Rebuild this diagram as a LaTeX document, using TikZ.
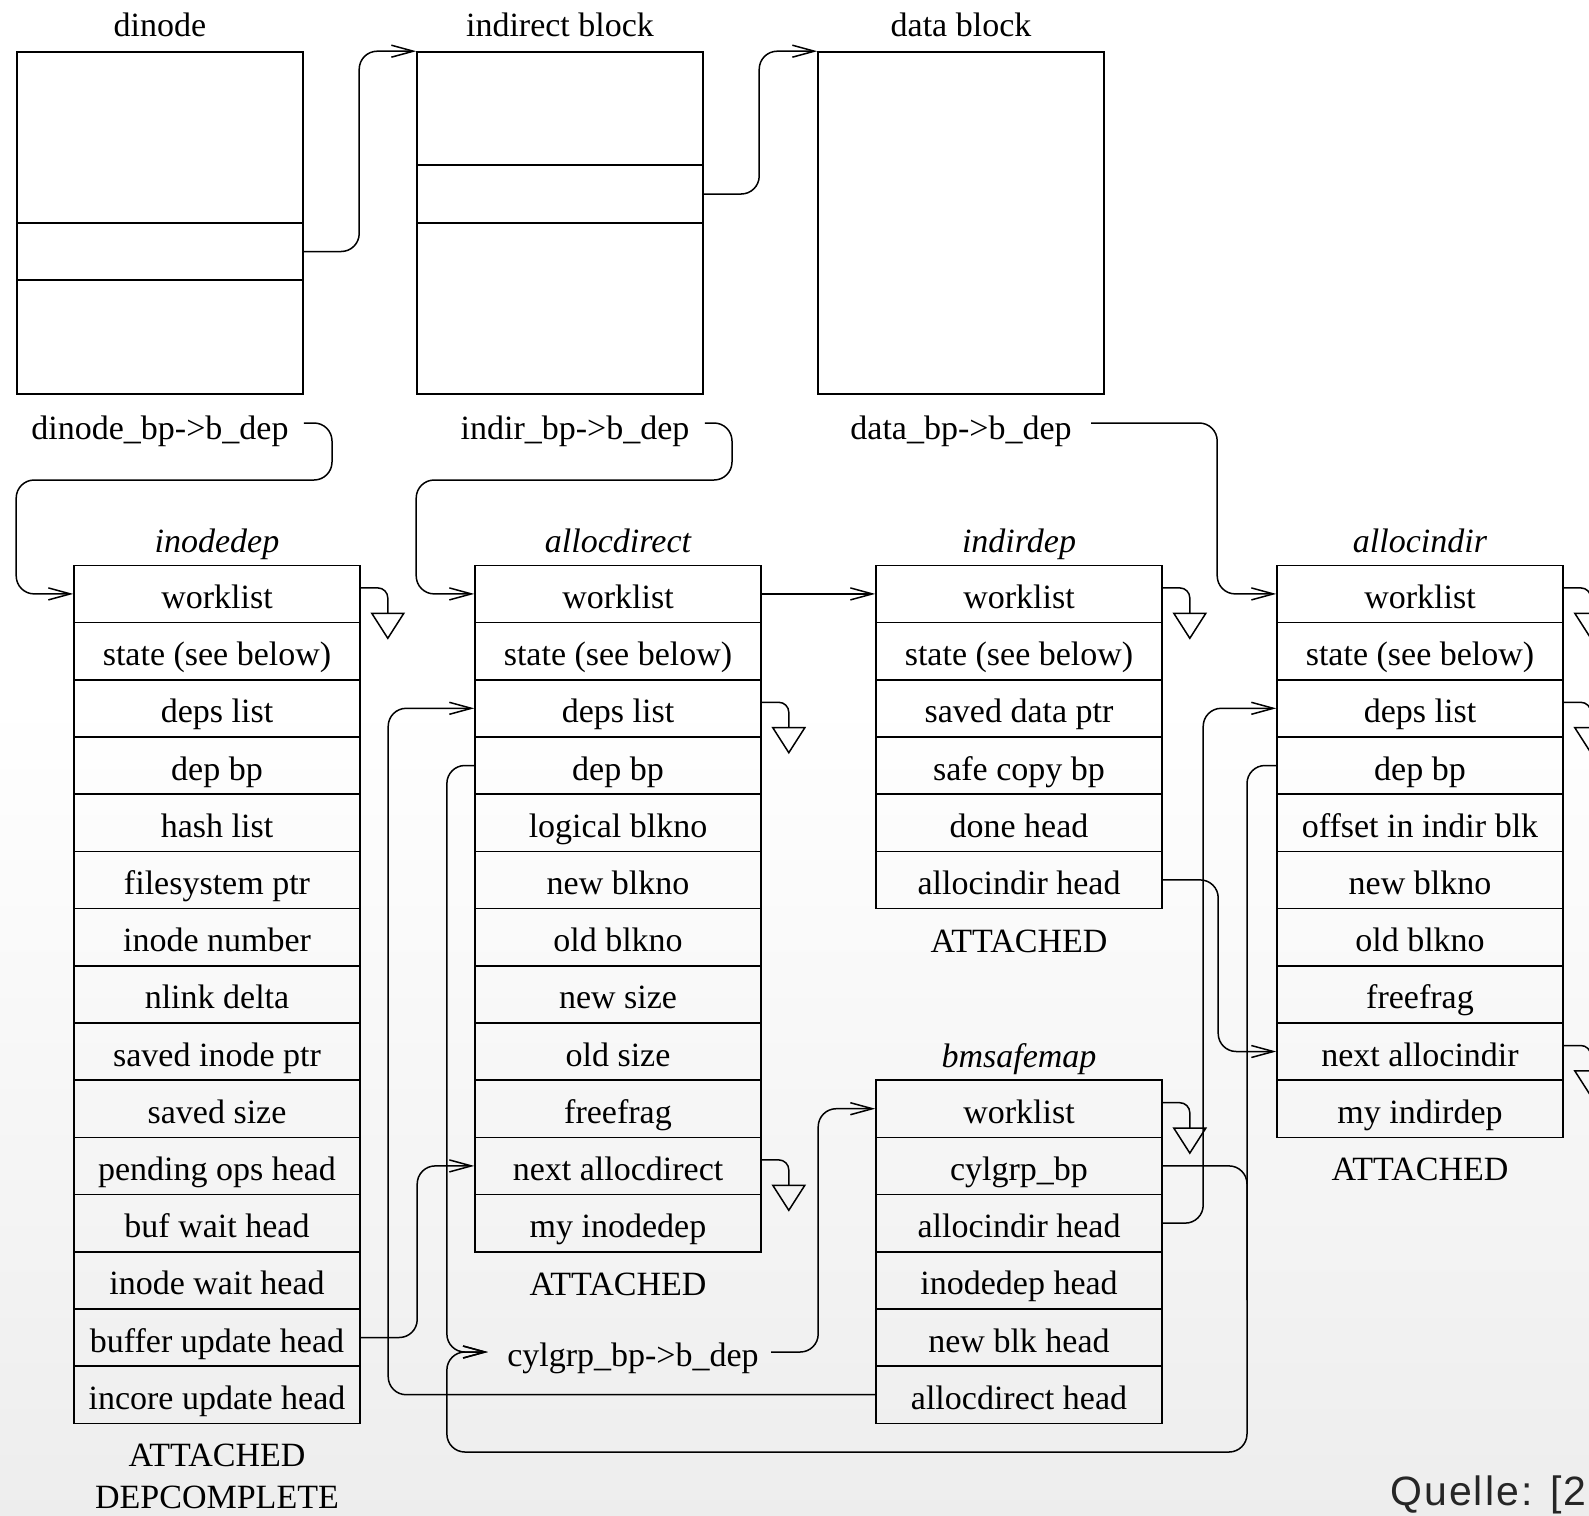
\documentclass[tikz,border=0pt]{standalone}
\usepackage{fontspec}
\setmainfont{Liberation Serif}
\newfontfamily\quellefont[LetterSpace=5]{Liberation Sans}
\usetikzlibrary{arrows.meta,calc}
\newcommand\nilhook[1]{%
  \draw[line width=0.75pt,rounded corners=5pt] ($(#1.east)+(0,-6)$) -- ++(27,0) -- ++(0,25.4);
  \draw[line width=0.75pt] ($(#1.east)+(11,19.4)$) -- ++(32,0) -- ++(-16,25) -- cycle;}
\begin{document}
\begin{tikzpicture}[x=0.5pt,y=-0.5pt,
  font=\fontsize{17}{20}\selectfont,
  cell/.style={draw,line width=0.8pt,minimum width=143pt,minimum height=28.6pt,inner sep=0pt,text height=14.5pt,text depth=0pt},
  blk/.style={draw,line width=0.8pt,minimum width=143pt,inner sep=0pt},
  lbl/.style={inner sep=0pt,text height=11.3pt,text depth=0pt},
  ttl/.style={lbl,font=\fontsize{17}{20}\selectfont\itshape},
  wire/.style={line width=0.75pt,rounded corners=9pt},
  conn/.style={wire,-{Straight Barb[length=11pt,width=6pt]}},
]
\useasboundingbox (0,0) rectangle (1589,1515);
\clip (0,0) rectangle (1589,1515);
\fill[white] (0,0) rectangle (1589,1515);
\shade[top color=white,bottom color=black!7] (0,700) rectangle (1589,1516);

% top blocks
\node[lbl] (tDin) at (160,25) {dinode};
\node[lbl] (tInd) at (560,25) {indirect block};
\node[lbl] (tDat) at (961,25) {data block};
\node[blk,minimum height=85.5pt] (dinT) at (160,137.5) {};
\node[blk,minimum height=28.5pt] (dinM) at (160,251.5) {};
\node[blk,minimum height=57pt] (dinB) at (160,337) {};
\node[blk,minimum height=56.5pt] (indT) at (560,108.5) {};
\node[blk,minimum height=29pt] (indM) at (560,194) {};
\node[blk,minimum height=85.5pt] (indB) at (560,308.5) {};
\node[blk,minimum height=171pt] (datB) at (961,223) {};

\draw[conn] (dinM.east) -| ($(indT.north west)+(-57,0)$) -- (indT.north west);
\draw[conn] (indM.east) -| ($(datB.north west)+(-58,0)$) -- (datB.north west);

\node[lbl] (dbp) at (160,428) {dinode\_bp->b\_dep};
\node[lbl] (ibp) at (575,428) {indir\_bp->b\_dep};
\node[lbl] (dtbp) at (961,428) {data\_bp->b\_dep};

% tables
\node[ttl] (hIno) at (217,541) {inodedep};
\node[ttl] (hAd) at (618,541) {allocdirect};
\node[ttl] (hInd) at (1019,541) {indirdep};
\node[ttl] (hAi) at (1420,541) {allocindir};
\node[ttl] (hBm) at (1019,1056) {bmsafemap};

\foreach \t [count=\i from 0] in {worklist,state (see below),deps list,dep bp,hash list,filesystem ptr,inode number,nlink delta,saved inode ptr,saved size,pending ops head,buf wait head,inode wait head,buffer update head,incore update head}
  \node[cell] (ino\i) at (217,{593.9+57.2*\i}) {\t};
\foreach \t [count=\i from 0] in {worklist,state (see below),deps list,dep bp,logical blkno,new blkno,old blkno,new size,old size,freefrag,next allocdirect,my inodedep}
  \node[cell] (ad\i) at (618,{593.9+57.2*\i}) {\t};
\foreach \t [count=\i from 0] in {worklist,state (see below),saved data ptr,safe copy bp,done head,allocindir head}
  \node[cell] (ind\i) at (1019,{593.9+57.2*\i}) {\t};
\foreach \t [count=\i from 0] in {worklist,state (see below),deps list,dep bp,offset in indir blk,new blkno,old blkno,freefrag,next allocindir,my indirdep}
  \node[cell] (ai\i) at (1420,{593.9+57.2*\i}) {\t};
\foreach \t [count=\i from 0] in {worklist,cylgrp\_bp,allocindir head,inodedep head,new blk head,allocdirect head}
  \node[cell] (bm\i) at (1019,{1108.7+57.2*\i}) {\t};

\node[lbl] (sIno1) at (217,1455) {ATTACHED};
\node[lbl] (sIno2) at (217,1497) {DEPCOMPLETE};
\node[lbl] (sAd) at (618,1284) {ATTACHED};
\node[lbl] (sInd) at (1019,941) {ATTACHED};
\node[lbl] (sAi) at (1420,1169.5) {ATTACHED};

\node[lbl] (cbp) at (633,1355) {cylgrp\_bp->b\_dep};
\coordinate (cbpin) at ($(cbp.west)+(-19,-3)$);
\coordinate (loopR) at (1247,1452);
\coordinate (loopM) at (1247,1300);

% connectors
\draw[conn] ($(dbp.east)+(15,-5)$) -| (332,480) -| ($(ino0.west)+(-57,0)$) -- (ino0.west);
\draw[conn] ($(ibp.east)+(15,-5)$) -| (732,480) -| ($(ad0.west)+(-58,0)$) -- (ad0.west);
\draw[conn] ($(dtbp.east)+(19,-5)$) -| ($(ai0.west)+(-59,0)$) -- (ai0.west);
\draw[conn] (ad0.east) -- (ind0.west);
\draw[conn] (ino13.east) -| ($(ad10.west)+(-57,0)$) -- (ad10.west);
\draw[conn] (bm5.west) -| ($(ad2.west)+(-86,0)$) -- (ad2.west);
\draw[conn] (ad3.west) -| ($(cbpin)+(-41,0)$) -- (cbpin);
\draw[conn] (bm1.east) -| (loopR) -| ($(cbpin)+(-41,0)$) -- (cbpin);
\draw[wire] (ai3.west) -| (loopM);
\draw[conn] ($(cbp.east)+(12,-3)$) -| ($(bm0.west)+(-57,0)$) -- (bm0.west);
\draw[conn] (bm2.east) -| ($(ai2.west)+(-73,0)$) -- (ai2.west);
\draw[conn] (ind5.east) -| ($(ai8.west)+(-58,0)$) -- (ai8.west);

\nilhook{ino0}
\nilhook{ad2}
\nilhook{ad10}
\nilhook{ind0}
\nilhook{ai0}
\nilhook{ai2}
\nilhook{ai8}
\nilhook{bm0}

\node[anchor=base east,inner sep=0pt,font=\quellefont\fontsize{20.5}{24}\selectfont,text=black!85] (src) at (1587,1505) {Quelle: [2};
\end{tikzpicture}
\end{document}
